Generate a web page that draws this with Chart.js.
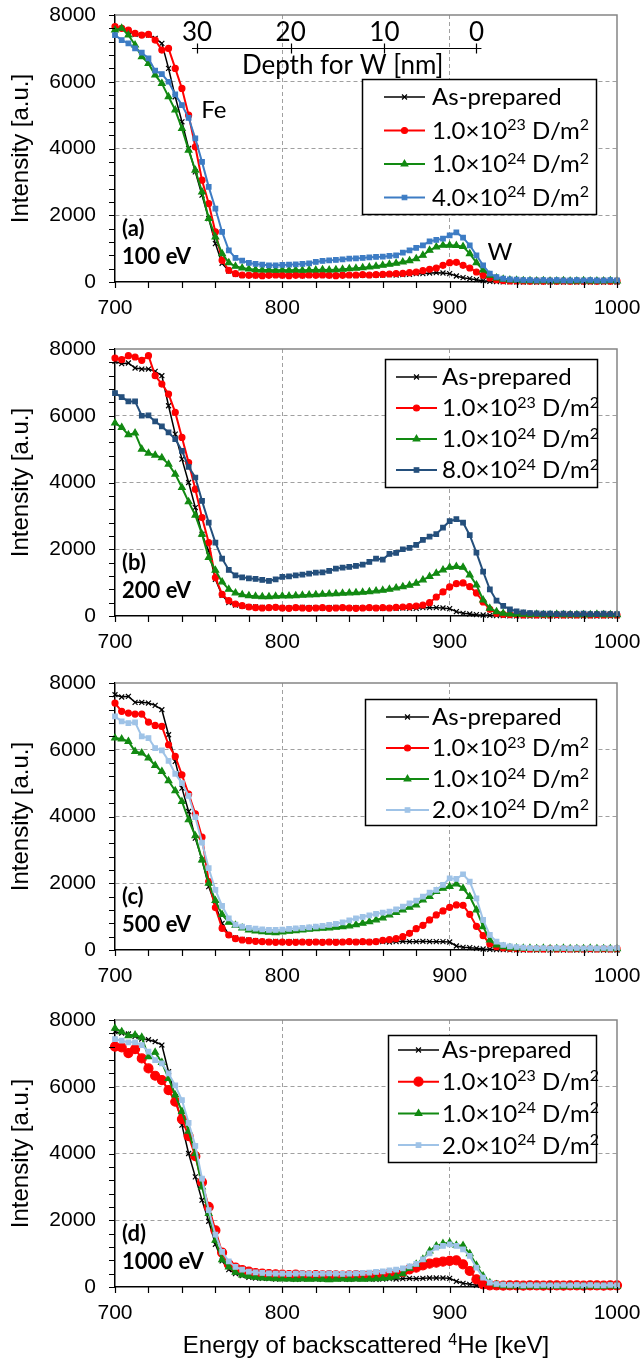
<!DOCTYPE html>
<html>
<head>
<meta charset="utf-8">
<script src="https://cdn.jsdelivr.net/npm/chart.js@4.4.0/dist/chart.umd.min.js"></script>
<style>
  html, body { margin: 0; padding: 0; background: #fff; }
  #wrap { position: relative; width: 641px; height: 1360px; }
  canvas { position: absolute; left: 0; }
</style>
</head>
<body>
<div id="wrap">
  <canvas id="pa" width="641" height="334" style="top:0px"></canvas>
  <canvas id="pb" width="641" height="334" style="top:334px"></canvas>
  <canvas id="pc" width="641" height="334" style="top:668px"></canvas>
  <canvas id="pd" width="641" height="355" style="top:1005px"></canvas>
</div>
<script>
// energy channels [keV]
const energies = [700,704,708,712,716,720,724,728,732,736,740,744,748,752,756,760,764,768,772,776,
  780,784,788,792,796,800,804,808,812,816,820,824,828,832,836,840,844,848,852,856,
  860,864,868,872,876,880,884,888,892,896,900,904,908,912,916,920,924,928,932,936,
  940,944,948,952,956,960,964,968,972,976,980,984,988,992,996,1000];

// (a) 100 eV
const labelsA = ['As-prepared', '1.0×10²³ D/m²', '1.0×10²⁴ D/m²', '4.0×10²⁴ D/m²'];
const blackA = [7650,7600,7500,7420,7400,7400,7300,7150,6400,5550,4800,4000,3300,2600,1900,1150,560,330,230,200,
  200,190,200,210,200,190,200,210,190,200,210,200,190,200,210,200,190,210,200,210,
  210,220,210,220,230,250,250,270,280,270,250,180,130,100,70,40,20,10,5,5,
  5,0,5,0,5,0,5,0,5,0,5,0,5,0,5,0];
const redA = [7650,7600,7550,7450,7400,7420,7250,6950,7000,6400,5800,5000,4050,3050,2350,1500,650,350,250,210,
  200,200,190,200,210,200,190,200,200,210,200,210,200,190,200,210,210,220,210,220,
  230,240,250,260,280,300,340,380,420,500,580,590,500,420,300,200,120,70,40,30,
  30,30,20,30,20,30,20,30,20,30,20,30,20,30,20,30];
const greenA = [7550,7600,7400,7100,6750,6550,6200,5950,5550,5150,4600,3950,3350,2700,1900,1350,850,580,470,420,
  390,370,360,360,350,360,350,360,350,360,360,370,360,370,380,400,410,430,450,470,
  500,530,560,600,640,700,800,950,1050,1100,1100,1090,1060,850,580,360,200,120,80,60,
  50,40,40,30,40,30,30,40,30,30,40,30,30,30,40,30];
const blueA = [7400,7250,7150,7000,6870,6700,6330,6230,6000,5620,5300,4920,4300,3600,2850,2200,1500,950,720,640,
  570,540,520,500,500,510,520,530,540,560,600,630,650,660,680,700,710,720,740,750,
  760,780,800,880,950,1020,1100,1220,1260,1300,1400,1490,1330,1100,800,500,250,150,100,80,
  70,60,60,50,60,50,60,50,50,60,50,60,50,50,60,50];

// (b) 200 eV
const labelsB = ['As-prepared', '1.0×10²³ D/m²', '1.0×10²⁴ D/m²', '8.0×10²⁴ D/m²'];
const blackB = [7630,7560,7580,7430,7400,7400,7330,7200,6300,5450,4700,4000,3250,2450,1950,1100,620,400,330,300,
  280,270,260,250,260,250,240,250,260,250,250,240,250,260,250,240,250,240,250,240,
  230,240,230,240,230,230,250,250,250,240,220,130,80,60,40,30,20,10,10,5,
  5,5,0,5,0,5,0,5,0,5,0,5,0,5,0,5];
const redB = [7730,7680,7800,7760,7660,7800,7200,6950,6650,6100,5350,4600,3800,2950,2200,1150,650,460,360,310,
  270,250,240,250,260,240,230,250,240,230,240,250,230,240,250,240,230,240,250,240,
  250,240,260,270,280,300,330,400,570,720,870,970,990,880,690,420,200,80,50,40,
  40,30,40,30,40,30,40,30,40,30,40,30,40,30,40,30];
const greenB = [5780,5650,5430,5480,5000,4880,4820,4740,4550,4250,3850,3420,3020,2450,1750,1370,1020,800,690,640,
  610,590,580,580,590,600,600,610,620,630,640,650,660,670,680,690,700,710,730,750,
  770,800,840,880,920,980,1080,1180,1280,1380,1460,1480,1460,1230,930,480,230,130,80,60,
  50,50,40,50,40,40,50,40,40,40,40,40,50,40,40,40];
const blueB = [6680,6560,6430,6430,6000,6010,5830,5680,5500,5300,4950,4470,4150,3450,2800,2200,1720,1380,1220,1160,
  1130,1110,1080,1050,1100,1170,1190,1220,1240,1270,1300,1310,1350,1420,1450,1470,1500,1540,1620,1720,
  1690,1860,1890,2000,2040,2130,2280,2380,2450,2650,2840,2900,2800,2420,1900,1330,800,460,300,200,
  140,110,90,80,70,70,60,70,60,60,70,60,60,70,60,60];

// (c) 500 eV
const labelsC = ['As-prepared', '1.0×10²³ D/m²', '1.0×10²⁴ D/m²', '2.0×10²⁴ D/m²'];
const blackC = [7650,7580,7600,7420,7420,7400,7330,7200,6450,5650,4850,4150,3350,2700,1900,1350,800,450,360,320,
  300,280,260,250,260,240,250,260,240,250,250,240,250,260,240,250,250,240,250,260,
  250,240,250,260,250,250,260,250,250,250,240,120,80,70,50,30,20,10,10,5,
  5,0,5,0,5,0,5,0,5,0,5,0,5,0,5,0];
const redC = [7400,7150,7100,7070,7070,6830,6730,6700,6150,5800,5250,4670,4080,3380,2050,1270,650,450,340,300,
  280,260,250,240,230,240,230,230,240,230,240,230,240,230,240,250,240,250,240,250,
  290,310,340,400,500,640,740,900,1050,1170,1280,1350,1340,1070,710,430,180,100,60,50,
  40,40,30,40,30,40,30,40,30,40,30,40,30,40,30,40];
const greenC = [6350,6320,6250,5950,5900,5750,5530,5350,5070,4770,4450,3900,3420,2700,2000,1480,1060,830,740,660,
  600,570,545,530,520,540,560,580,600,620,640,650,660,680,700,720,760,800,850,900,
  960,1050,1120,1200,1280,1350,1500,1600,1750,1850,1900,1980,1850,1600,1200,700,300,150,100,70,
  60,50,50,40,50,40,40,50,40,40,40,50,40,40,40,40];
const lightC = [7000,6850,6800,6820,6400,6350,6050,5980,5670,5280,5000,4620,3980,3220,2450,1800,1320,950,760,700,
  660,640,620,600,600,610,630,650,660,680,700,720,750,780,830,890,950,990,1040,1080,
  1120,1150,1220,1300,1400,1480,1600,1720,1800,1950,2150,2130,2270,2050,1550,900,450,250,150,110,
  90,70,60,60,60,50,60,60,50,60,50,60,50,60,50,60];

// (d) 1000 eV
const labelsD = ['As-prepared', '1.0×10²³ D/m²', '1.0×10²⁴ D/m²', '2.0×10²⁴ D/m²'];
const blackD = [7650,7610,7580,7510,7430,7410,7350,7250,6450,5700,4850,4000,3300,2600,1970,1280,780,520,400,340,
  290,270,260,250,240,250,240,230,240,250,240,230,240,250,240,230,240,250,240,230,
  240,250,240,250,260,250,260,270,270,270,260,170,110,80,50,30,10,5,5,0,
  0,5,0,5,0,5,0,5,0,5,0,5,0,5,0,5];
const redD = [7200,7180,7010,7130,6850,6550,6330,6200,5900,5550,5030,4520,3920,3140,2400,1700,1030,680,580,510,
  460,420,400,390,380,370,360,370,360,350,360,350,360,350,340,350,360,350,360,370,
  380,400,420,450,530,580,650,700,730,760,780,800,680,480,230,80,50,50,40,50,
  50,40,50,50,40,50,50,40,50,50,40,50,50,40,50,50];
const greenD = [7750,7650,7530,7550,7480,6900,7030,6730,6250,5750,5260,4670,4000,3000,2200,1400,820,600,440,360,
  320,290,270,260,250,240,240,230,240,230,240,230,220,230,240,230,240,230,240,250,
  260,280,320,400,560,680,830,1080,1230,1300,1330,1250,1240,1000,650,330,130,70,40,30,
  30,20,30,20,20,30,20,20,30,20,20,30,20,20,30,20];
const lightD = [7430,7380,7330,7330,7250,7050,6800,6700,6400,6040,5600,4920,4230,3250,2300,1570,1050,770,600,520,
  460,440,420,410,400,400,390,400,410,400,390,400,410,400,390,400,410,420,430,450,
  470,500,520,560,620,690,830,1010,1180,1230,1280,1230,1130,930,580,280,130,90,70,60,
  60,50,60,50,60,50,50,60,50,60,50,60,50,50,60,50];

// secondary depth scale for W (panel a)
const depthTicks = ['30', '20', '10', '0'];
const depthTickEnergy = [749, 805, 861, 916];

const SANS = "'Liberation Sans', Arial, sans-serif";
const CAL = "Lato, 'Open Sans', sans-serif";
const SUP = { '⁰':'0','¹':'1','²':'2','³':'3','⁴':'4','⁵':'5','⁶':'6','⁷':'7','⁸':'8','⁹':'9' };

// draws text where unicode superscript digits are raised and shrunk
function richRuns(text) {
  const runs = [];
  for (const ch of text) {
    const sup = SUP[ch] !== undefined;
    const c = sup ? SUP[ch] : ch;
    const last = runs[runs.length - 1];
    if (last && last.sup === sup) last.t += c; else runs.push({ t: c, sup });
  }
  return runs;
}
function drawRich(ctx, text, x, y, size, family, align) {
  const runs = richRuns(text);
  const supSize = Math.round(size * 0.65);
  let w = 0;
  runs.forEach(r => {
    ctx.font = (r.sup ? supSize : size) + 'px ' + family;
    r.w = ctx.measureText(r.t).width;
    w += r.w;
  });
  let cx = align === 'center' ? x - w / 2 : x;
  ctx.textAlign = 'left';
  ctx.textBaseline = 'alphabetic';
  const base = y + size * 0.35;
  runs.forEach(r => {
    ctx.font = (r.sup ? supSize : size) + 'px ' + family;
    ctx.fillText(r.t, cx, r.sup ? base - size * 0.36 : base);
    cx += r.w;
  });
}

const excelFrame = {
  id: 'excelFrame',
  afterDraw(chart, args, o) {
    const { ctx, chartArea: a, scales: { x, y } } = chart;
    ctx.save();
    // top and right frame
    ctx.strokeStyle = '#858585';
    ctx.lineWidth = 1.5;
    ctx.beginPath();
    ctx.moveTo(a.left, a.top); ctx.lineTo(a.right, a.top); ctx.lineTo(a.right, a.bottom);
    ctx.stroke();
    // major + minor tick marks (outside)
    ctx.strokeStyle = '#000';
    ctx.lineWidth = 1.2;
    ctx.beginPath();
    for (let v = x.min; v <= x.max; v += 20) {
      const px = Math.round(x.getPixelForValue(v)) + 0.5;
      ctx.moveTo(px, a.bottom); ctx.lineTo(px, a.bottom + 6);
    }
    for (let v = y.min; v <= y.max; v += 400) {
      const py = Math.round(y.getPixelForValue(v)) + 0.5;
      ctx.moveTo(a.left - 6, py); ctx.lineTo(a.left, py);
    }
    ctx.stroke();

    ctx.fillStyle = '#000';
    // panel tag
    ctx.font = 'bold 22px ' + CAL;
    ctx.textAlign = 'left';
    ctx.textBaseline = 'middle';
    ctx.fillText(o.tag, a.left + 7, a.bottom - 53);
    ctx.fillText(o.energy, a.left + 7, a.bottom - 25);

    // text notes placed in data coordinates
    (o.notes || []).forEach(n => {
      ctx.font = '24px ' + CAL;
      ctx.textAlign = 'center';
      ctx.textBaseline = 'middle';
      ctx.fillText(n.text, x.getPixelForValue(n.e), y.getPixelForValue(n.v));
    });

    // depth axis
    if (o.depth) {
      const ly = Math.round(y.getPixelForValue(7000)) + 0.5;
      const x0 = x.getPixelForValue(depthTickEnergy[0]);
      const x1 = x.getPixelForValue(depthTickEnergy[depthTickEnergy.length - 1]);
      ctx.strokeStyle = '#000';
      ctx.lineWidth = 1.2;
      ctx.beginPath();
      ctx.moveTo(x0 - 5, ly); ctx.lineTo(x1 + 5, ly);
      depthTickEnergy.forEach(e => {
        const px = Math.round(x.getPixelForValue(e)) + 0.5;
        ctx.moveTo(px, ly - 5); ctx.lineTo(px, ly + 5);
      });
      ctx.stroke();
      ctx.font = '26px ' + CAL;
      ctx.textAlign = 'center';
      ctx.textBaseline = 'middle';
      depthTicks.forEach((t, i) => ctx.fillText(t, x.getPixelForValue(depthTickEnergy[i]), ly - 16));
      ctx.fillText('Depth for W [nm]', (x0 + x1) / 2 + 6, ly + 17);
    }

    // legend
    const L = o.legend;
    ctx.fillStyle = '#fff';
    ctx.fillRect(L.x, L.y, L.w, L.h);
    ctx.strokeStyle = '#000';
    ctx.lineWidth = 1.5;
    ctx.strokeRect(L.x + 0.5, L.y + 0.5, L.w, L.h);
    chart.data.datasets.forEach((ds, i) => {
      const ry = L.y + L.row0 + i * L.gap;
      ctx.strokeStyle = ds.borderColor;
      ctx.lineWidth = ds.borderWidth;
      ctx.beginPath(); ctx.moveTo(L.lineX, ry); ctx.lineTo(L.lineX + L.lineW, ry); ctx.stroke();
      ctx.fillStyle = ds.pointBackgroundColor;
      ctx.strokeStyle = ds.pointBorderColor;
      ctx.lineWidth = ds.pointBorderWidth;
      Chart.helpers.drawPoint(ctx, { pointStyle: ds.pointStyle, radius: ds.pointRadius, borderWidth: ds.pointBorderWidth, rotation: 0 }, L.lineX + L.lineW / 2, ry);
      ctx.fillStyle = '#000';
      drawRich(ctx, ds.label, L.textX, ry, 24, CAL, 'left');
    });

    // shared x title under the last panel
    if (o.xTitle) {
      ctx.fillStyle = '#000';
      drawRich(ctx, o.xTitle, (a.left + a.right) / 2, a.bottom + 58, 24, SANS, 'center');
    }
    ctx.restore();
  }
};

const styles = [
  { pointStyle: 'crossRot', radius: 3.5, width: 1.5 },
  { pointStyle: 'circle', radius: 3, width: 2 },
  { pointStyle: 'triangle', radius: 3.8, width: 2 },
  { pointStyle: 'rect', radius: 3.2, width: 2 }
];

const plainTick = v => String(v);

function makePanel(id, labels, series, colors, xAxisHeight, opts) {
  const n = series.length;
  const datasets = series.map((vals, i) => ({
    label: labels[i],
    data: energies.map((e, k) => ({ x: e, y: vals[k] })),
    borderColor: colors[i],
    backgroundColor: colors[i],
    pointBackgroundColor: colors[i],
    pointBorderColor: colors[i],
    pointBorderWidth: 1.2,
    borderWidth: styles[i].width,
    pointStyle: styles[i].pointStyle,
    pointRadius: (opts.radii && opts.radii[i]) || styles[i].radius,
    tension: 0,
    clip: false,
    order: n - 1 - i
  }));
  const gridColor = c => (c.tick && c.tick.value > c.scale.min && c.tick.value < c.scale.max) ? '#a0a0a0' : 'rgba(0,0,0,0)';
  new Chart(document.getElementById(id), {
    type: 'line',
    data: { datasets },
    options: {
      responsive: false,
      animation: false,
      events: [],
      layout: { padding: { top: 15, right: 24, left: 0, bottom: 0 } },
      scales: {
        x: {
          type: 'linear', min: 700, max: 1000,
          ticks: { stepSize: 100, padding: 14, color: '#000', font: { family: SANS, size: 21 }, maxRotation: 0, callback: plainTick },
          grid: { color: gridColor, lineWidth: 1, drawTicks: false },
          border: { display: true, color: '#000', width: 1.5, dash: [4, 3] },
          afterFit: s => { s.height = xAxisHeight; s.paddingLeft = 0; s.paddingRight = 0; }
        },
        y: {
          min: 0, max: 8000,
          ticks: { stepSize: 2000, padding: 19, color: '#000', font: { family: SANS, size: 21 }, callback: plainTick },
          grid: { color: gridColor, lineWidth: 1, drawTicks: false },
          border: { display: true, color: '#000', width: 1.5, dash: [4, 3] },
          title: { display: true, text: 'Intensity [a.u.]', color: '#000', font: { family: SANS, size: 24 }, padding: { top: 7, bottom: 0 } },
          afterFit: s => { s.width = 115; s.paddingTop = 0; s.paddingBottom = 0; }
        }
      },
      plugins: {
        legend: { display: false },
        tooltip: { enabled: false },
        excelFrame: opts
      }
    },
    plugins: [excelFrame]
  });
}

makePanel('pa', labelsA, [blackA, redA, greenA, blueA], ['#000000', '#ff0000', '#128a12', '#3d7cc4'], 52, {
  tag: '(a)', energy: '100 eV', depth: true,
  notes: [{ text: 'Fe', e: 759, v: 5150 }, { text: 'W', e: 930, v: 900 }],
  legend: { x: 362, y: 79, w: 234, h: 135, row0: 18, gap: 33.5, lineX: 384, lineW: 41, textX: 432 }
});
makePanel('pb', labelsB, [blackB, redB, greenB, blueB], ['#000000', '#ff0000', '#128a12', '#244f7c'], 52, {
  tag: '(b)', energy: '200 eV',
  legend: { x: 385, y: 25, w: 212, h: 128, row0: 18, gap: 31, lineX: 396, lineW: 41, textX: 442 }
});
makePanel('pc', labelsC, [blackC, redC, greenC, lightC], ['#000000', '#ff0000', '#128a12', '#9fc3e7'], 52, {
  tag: '(c)', energy: '500 eV',
  legend: { x: 365, y: 31, w: 231, h: 126, row0: 18, gap: 31, lineX: 386, lineW: 43, textX: 432 }
});
makePanel('pd', labelsD, [blackD, redD, greenD, lightD], ['#000000', '#ff0000', '#128a12', '#9fc3e7'], 73, {
  tag: '(d)', energy: '1000 eV', radii: [0, 4.5, 0, 0],
  xTitle: 'Energy of backscattered ⁴He [keV]',
  legend: { x: 388, y: 30, w: 208, h: 127, row0: 15, gap: 31.7, lineX: 398, lineW: 41, textX: 442 }
});
</script>
</body>
</html>
